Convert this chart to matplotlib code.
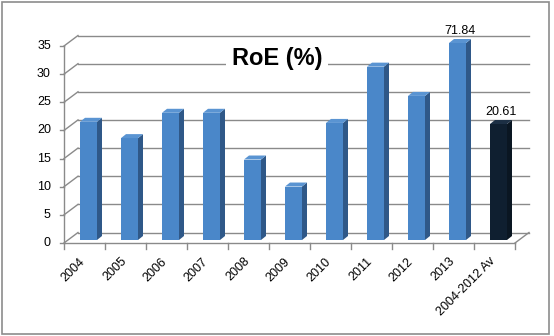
import numpy as np
import matplotlib.pyplot as plt
from matplotlib.patches import Polygon, Rectangle

# RoE values per year, plus the 2004-2012 average
categories = ["2004", "2005", "2006", "2007", "2008", "2009", "2010",
              "2011", "2012", "2013", "2004-2012 Av"]
roe = [21.0, 18.1, 22.6, 22.6, 14.3, 9.5, 20.8, 30.8, 25.6, 71.84, 20.61]
labelled = {9: "71.84", 10: "20.61"}
y_ticks = [0, 5, 10, 15, 20, 25, 30, 35]

YMAX = 35
W, H = 554, 336
PX_X = 41.0          # pixels per category
PX_Y = 197.0 / 35    # pixels per unit

plt.rcParams["font.family"] = ["Liberation Sans", "DejaVu Sans"]

fig = plt.figure(figsize=(W / 100, H / 100), dpi=100)
ax = fig.add_axes([64 / W, (H - 243) / H, (515 - 64) / W, (243 - 46) / H])
ax.set_xlim(-0.5, len(categories) - 0.5)
ax.set_ylim(0, YMAX)
ax.axis("off")

# outer frame
fig.patches.append(Rectangle((1.5 / W, 2.5 / H), 547 / W, 332 / H,
                             transform=fig.transFigure, fill=False,
                             ec="#8c8c8c", lw=1.2))

grid_c = "#8a8a8a"
dx, dy = 14 / PX_X, 10.5 / PX_Y   # depth of the back wall
x0, x1 = -0.5, len(categories) - 0.5

# back wall gridlines + left wall diagonals
for t in y_ticks:
    ax.plot([x0 + dx, x1 + dx], [t + dy, t + dy], color=grid_c, lw=1.0,
            clip_on=False, zorder=1)
    ax.plot([x0, x0 + dx], [t, t + dy], color=grid_c, lw=1.0,
            clip_on=False, zorder=1)
    ax.plot([x0 - 0.1, x0], [t, t], color=grid_c, lw=1.0, clip_on=False)
    ax.text(x0 - 0.32, t, str(t), ha="right", va="center", fontsize=9)

# floor and front axes
ax.plot([x0, x1], [0, 0], color=grid_c, lw=1.0, clip_on=False, zorder=1)
ax.plot([x1, x1 + dx], [0, dy], color=grid_c, lw=1.0, clip_on=False, zorder=1)
ax.plot([x0, x0], [0, YMAX], color=grid_c, lw=1.0, clip_on=False, zorder=1)
for k in range(len(categories) + 1):
    ax.plot([x0 + k, x0 + k], [0, -1.1], color=grid_c, lw=1.0, clip_on=False)

# pseudo-3D bars
bw = 17 / PX_X
bdx, bdy = 5 / PX_X, 4 / PX_Y
base = 3 / PX_Y
for i, v in enumerate(roe):
    h = min(v, YMAX)
    left = i - 0.5 + 16 / PX_X
    if i == len(roe) - 1:
        front, side, top = "#0f1f30", "#0a1622", "#1c2f44"
    else:
        front, side, top = "#4a87c9", "#2f5888", "#5a94d2"
    yb, yt = base, h + base
    ax.add_patch(Polygon([(left, yb), (left + bw, yb), (left + bw, yt), (left, yt)],
                         closed=True, fc=front, ec="none", zorder=3, clip_on=False))
    ax.add_patch(Polygon([(left + bw, yb), (left + bw + bdx, yb + bdy),
                          (left + bw + bdx, yt + bdy), (left + bw, yt)],
                         closed=True, fc=side, ec="none", zorder=3, clip_on=False))
    ax.add_patch(Polygon([(left, yt), (left + bw, yt), (left + bw + bdx, yt + bdy),
                          (left + bdx, yt + bdy)],
                         closed=True, fc=top, ec="none", zorder=3, clip_on=False))
    if i in labelled:
        ax.text(left + (bw + bdx) / 2, yt + bdy + 0.3, labelled[i],
                ha="center", va="bottom", fontsize=9, zorder=4)

# category labels
for i, c in enumerate(categories):
    ax.text(i - 0.13, -2.2, c, rotation=45, rotation_mode="anchor",
            ha="right", va="top", fontsize=9)

# title with white box over gridlines
ax.text(277 / W, (H - 58) / H, "RoE (%)", transform=fig.transFigure,
        ha="center", va="center", fontsize=17, fontweight="bold", zorder=5,
        bbox=dict(boxstyle="square,pad=0.25", fc="white", ec="none"))

fig.savefig("out.png", dpi=100)
